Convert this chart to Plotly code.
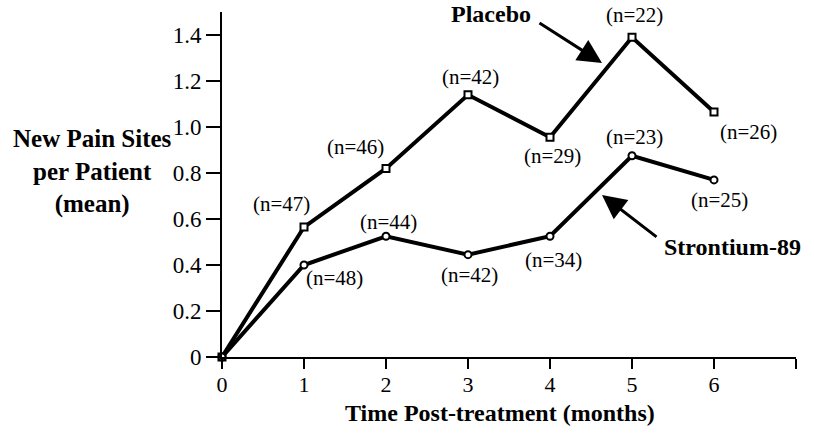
import plotly.graph_objects as go

# ---- data ----
months = [0, 1, 2, 3, 4, 5, 6]
placebo = [0, 0.565, 0.82, 1.14, 0.955, 1.39, 1.065]
strontium = [0, 0.40, 0.525, 0.445, 0.525, 0.875, 0.77]
placebo_n = ["", "(n=47)", "(n=46)", "(n=42)", "(n=29)", "(n=22)", "(n=26)"]
strontium_n = ["", "(n=48)", "(n=44)", "(n=42)", "(n=34)", "(n=23)", "(n=25)"]
x_tickvals = [0, 1, 2, 3, 4, 5, 6, 7]
x_ticktext = ["0", "1", "2", "3", "4", "5", "6", ""]
y_tickvals = [0, 0.2, 0.4, 0.6, 0.8, 1.0, 1.2, 1.4]
y_ticktext = ["0", "0.2", "0.4", "0.6", "0.8", "1.0", "1.2", "1.4"]

# label offsets in pixels (dx right, dy down)
placebo_off = [(0, 0), (-23, -23), (-31, -21), (2, -18), (2, 19), (2, -22), (34, 20)]
strontium_off = [(0, 0), (30, 13), (2, -14), (1, 20), (3, 24), (2, -19), (5, 20)]

W, H = 814, 434
ML, MR, MT, MB = 222, 18, 12, 77
PW, PH = W - ML - MR, H - MT - MB


def paper(px, py):
    return (px - ML) / PW, (H - MB - py) / PH


FONT = "Liberation Serif"

fig = go.Figure()
fig.add_trace(go.Scatter(
    x=months, y=placebo, mode="lines+markers",
    line=dict(color="black", width=4),
    marker=dict(symbol="square", size=7, color="white",
                line=dict(color="black", width=2)),
    cliponaxis=False, showlegend=False))
fig.add_trace(go.Scatter(
    x=months, y=strontium, mode="lines+markers",
    line=dict(color="black", width=4),
    marker=dict(symbol="circle", size=7, color="white",
                line=dict(color="black", width=2)),
    cliponaxis=False, showlegend=False))

ann = []
for xs, ys, labels, offs in [(months, placebo, placebo_n, placebo_off),
                              (months, strontium, strontium_n, strontium_off)]:
    for xv, yv, t, (dx, dy) in zip(xs, ys, labels, offs):
        if not t:
            continue
        ann.append(dict(x=xv, y=yv, xref="x", yref="y", text=t, showarrow=False,
                        xshift=dx, yshift=-dy, xanchor="center", yanchor="middle",
                        font=dict(family=FONT, size=21, color="black")))

bold = dict(family=FONT, size=24, color="black")
# series labels
px_, py_ = paper(491, 14)
ann.append(dict(x=px_, y=py_, xref="paper", yref="paper", text="<b>Placebo</b>",
                showarrow=False, xanchor="center", yanchor="middle", font=bold))
px_, py_ = paper(732, 247)
ann.append(dict(x=px_, y=py_, xref="paper", yref="paper", text="<b>Strontium-89</b>",
                showarrow=False, xanchor="center", yanchor="middle", font=bold))
# arrows
hx, hy = paper(602, 63)
ann.append(dict(x=hx, y=hy, xref="paper", yref="paper", text="", showarrow=True,
                ax=-64, ay=-41, arrowhead=2, arrowsize=1.6, arrowwidth=3,
                arrowcolor="black", standoff=0))
hx, hy = paper(602, 195)
ann.append(dict(x=hx, y=hy, xref="paper", yref="paper", text="", showarrow=True,
                ax=56, ay=43, arrowhead=2, arrowsize=1.6, arrowwidth=3,
                arrowcolor="black", standoff=0))
# axis titles
px_, py_ = paper(500, 413)
ann.append(dict(x=px_, y=py_, xref="paper", yref="paper",
                text="<b>Time Post-treatment (months)</b>",
                showarrow=False, xanchor="center", yanchor="middle", font=bold))
px_, py_ = paper(92, 171)
ann.append(dict(x=px_, y=py_, xref="paper", yref="paper",
                text="<b>New Pain Sites</b><br><b>per Patient</b><br><b>(mean)</b>",
                showarrow=False, xanchor="center", yanchor="middle", align="center",
                font=dict(family=FONT, size=25, color="black")))

fig.update_layout(
    width=W, height=H, margin=dict(l=ML, r=MR, t=MT, b=MB),
    paper_bgcolor="white", plot_bgcolor="white",
    annotations=ann,
    xaxis=dict(range=[0, 7], tickvals=x_tickvals, ticktext=x_ticktext,
               showline=True, linecolor="black", linewidth=2,
               ticks="outside", ticklen=10, tickwidth=2, tickcolor="black",
               showgrid=False, zeroline=False, ticklabelstandoff=-3,
               tickfont=dict(family=FONT, size=22, color="black")),
    yaxis=dict(range=[0, 1.5], tickvals=y_tickvals, ticktext=y_ticktext,
               showline=True, linecolor="black", linewidth=2,
               ticks="outside", ticklen=14, tickwidth=2, tickcolor="black",
               showgrid=False, zeroline=False,
               tickfont=dict(family=FONT, size=23, color="black")),
)

fig.write_html("out.html")
